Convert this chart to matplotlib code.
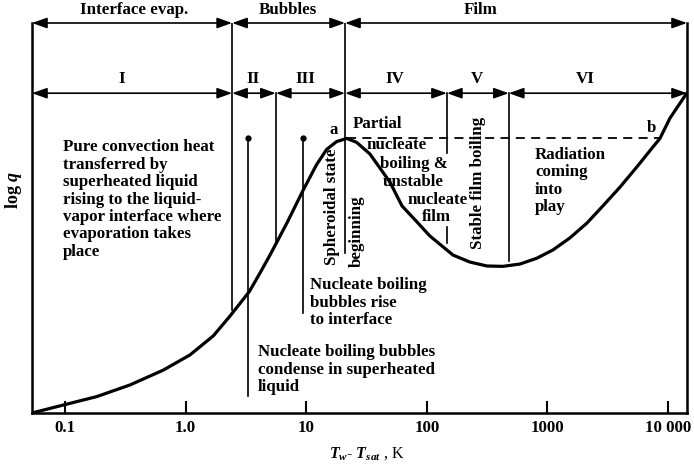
import numpy as np
import matplotlib
matplotlib.use("Agg")
import matplotlib.pyplot as plt

plt.rcParams["font.family"] = "Liberation Serif"
plt.rcParams["font.weight"] = "bold"
plt.rcParams["mathtext.fontset"] = "custom"
plt.rcParams["mathtext.rm"] = "Liberation Serif:bold"
plt.rcParams["mathtext.it"] = "Liberation Serif:italic:bold"

# boiling curve (x = Tw - Tsat in K, y = log q on a 0..100 scale)
dT = [0.0532, 0.0968, 0.183, 0.346, 0.653, 1.088, 1.70, 2.34, 3.37, 4.14, 5.01,
      6.89, 9.46, 12.2, 14.8, 17.9, 21.7, 26.2, 33.8, 40.9, 49.5, 62.3, 82.9, 106,
      165, 228, 315, 428, 593, 820, 1112, 1540, 2130, 2890, 4000, 5530, 7510, 8590,
      10400, 14400]
logq = [0.0, 2.05, 4.2, 7.2, 11.0, 14.9, 19.8, 24.9, 31.1, 35.9, 40.5,
        48.6, 57.2, 63.7, 67.6, 69.6, 70.4, 69.4, 66.4, 62.8, 59.2, 53.1, 49.0, 45.4,
        40.5, 38.7, 37.7, 37.6, 38.2, 39.7, 41.8, 44.9, 48.7, 53.1, 57.9, 63.1, 68.2, 70.4,
        75.6, 82.1]

x_min, x_max = 0.0532, 14400
level_ab = 70.4
point_a = 21.7
point_b = 8590

# region boundaries
top_row = 100
mid_row = 82
groups = ["Interface evap.", "Bubbles", "Film"]
group_edges = [x_min, 2.43, 21, x_max]
group_label_x = [0.373, 7.06, 281]
regions = ["I", "II", "III", "IV", "V", "VI"]
region_edges = [x_min, 2.43, 5.6, 21, 147, 479, x_max]
region_label_x = [0.297, 3.62, 9.77, 54.4, 261, 2050]

# boundary lines: x, top, bottom
bounds = [(2.43, top_row, 26.5), (5.6, mid_row, 44.0), (21, top_row, 41.0),
          (147, mid_row, 66.7), (147, 47.7, 43.6), (479, mid_row, 39.0)]
# pointer lines with a dot on top
pins = [(3.3, 4.4), (9.4, 25.6)]

ticks = [0.1, 1.0, 10, 100, 1000, 10000]
tick_labels = ["0.1", "1.0", "10", "100", "1000", "10 000"]

fig = plt.figure(figsize=(6.94, 4.65), dpi=100)
ax = fig.add_axes([32 / 694, 52 / 465, 655 / 694, 390 / 465])
ax.set_xscale("log")
ax.set_xlim(x_min, x_max)
ax.set_ylim(0, 100)

ax.plot(dT, logq, color="black", lw=2.3, solid_joinstyle="round",
        solid_capstyle="round", zorder=3)
ax.plot([point_a, point_b], [level_ab, level_ab], color="black", lw=1.3,
        dashes=(5, 3.5), zorder=2)

for x, y0, y1 in bounds:
    ax.plot([x, x], [y1, y0], color="black", lw=1.2)
for x, y1 in pins:
    ax.plot([x, x], [y1, level_ab], color="black", lw=1.2)
    ax.plot(x, level_ab, "o", color="black", ms=3.5)

arrow = dict(arrowstyle="<|-|>,head_length=0.9,head_width=0.32", color="black",
             lw=1.2, shrinkA=0, shrinkB=0)
fs = 12.2
for i in range(len(groups)):
    ax.annotate("", xy=(group_edges[i + 1], top_row), xytext=(group_edges[i], top_row),
                arrowprops=arrow, annotation_clip=False)
    ax.text(group_label_x[i], 103.4, groups[i], ha="center", va="center",
            fontsize=fs, clip_on=False)
for i in range(len(regions)):
    ax.annotate("", xy=(region_edges[i + 1], mid_row), xytext=(region_edges[i], mid_row),
                arrowprops=arrow, annotation_clip=False)
    ax.text(region_label_x[i], 85.6, regions[i], ha="center", va="center", fontsize=fs)

ls = 1.12
ax.text(0.096, 70.2, "Pure convection heat\ntransferred by\nsuperheated liquid\n"
        "rising to the liquid-\nvapor interface where\nevaporation takes\nplace",
        ha="left", va="top", fontsize=fs, linespacing=ls)
ax.text(17.0, 72.6, "a", ha="center", va="center", fontsize=fs)
ax.text(7360, 73.0, "b", ha="center", va="center", fontsize=fs)
for x, y, s in [(24.4, 74.1, "Partial"), (31.9, 68.7, "nucleate"),
                (40.9, 63.8, "boiling &"), (43.4, 59.2, "unstable"),
                (68.6, 54.6, "nucleate"), (91.2, 50.3, "film")]:
    ax.text(x, y, s, ha="left", va="center", fontsize=fs)
ax.text(16.4, 52.8, "Spheroidal state", rotation=90, ha="center", va="center", fontsize=fs)
ax.text(26.4, 46.7, "beginning", rotation=90, ha="center", va="center", fontsize=fs)
ax.text(266, 59.0, "Stable film boiling", rotation=90, ha="center", va="center", fontsize=fs)
ax.text(789, 68.2, "Radiation\ncoming\ninto\nplay", ha="left", va="top",
        fontsize=fs, linespacing=ls)
ax.text(10.7, 34.8, "Nucleate boiling\nbubbles rise\nto interface", ha="left", va="top",
        fontsize=fs, linespacing=ls)
ax.text(3.98, 17.6, "Nucleate boiling bubbles\ncondense in superheated\nliquid",
        ha="left", va="top", fontsize=fs, linespacing=ls)

ax.set_xticks(ticks)
ax.set_xticklabels(tick_labels, fontsize=fs)
ax.minorticks_off()
ax.tick_params(axis="x", direction="in", length=9, width=1.5, pad=5)
ax.set_yticks([])
ax.spines["top"].set_visible(False)
for s in ["left", "right", "bottom"]:
    ax.spines[s].set_linewidth(1.8)
ax.set_xlabel(r"$T_w$- $T_{sat}$ , K", fontsize=11.5)
ax.xaxis.set_label_coords(0.511, -0.083)
fig.text(13 / 694, 1 - 190 / 465, r"log $q$", rotation=90, ha="center", va="center",
         fontsize=13)

fig.savefig("out.png", dpi=100)
